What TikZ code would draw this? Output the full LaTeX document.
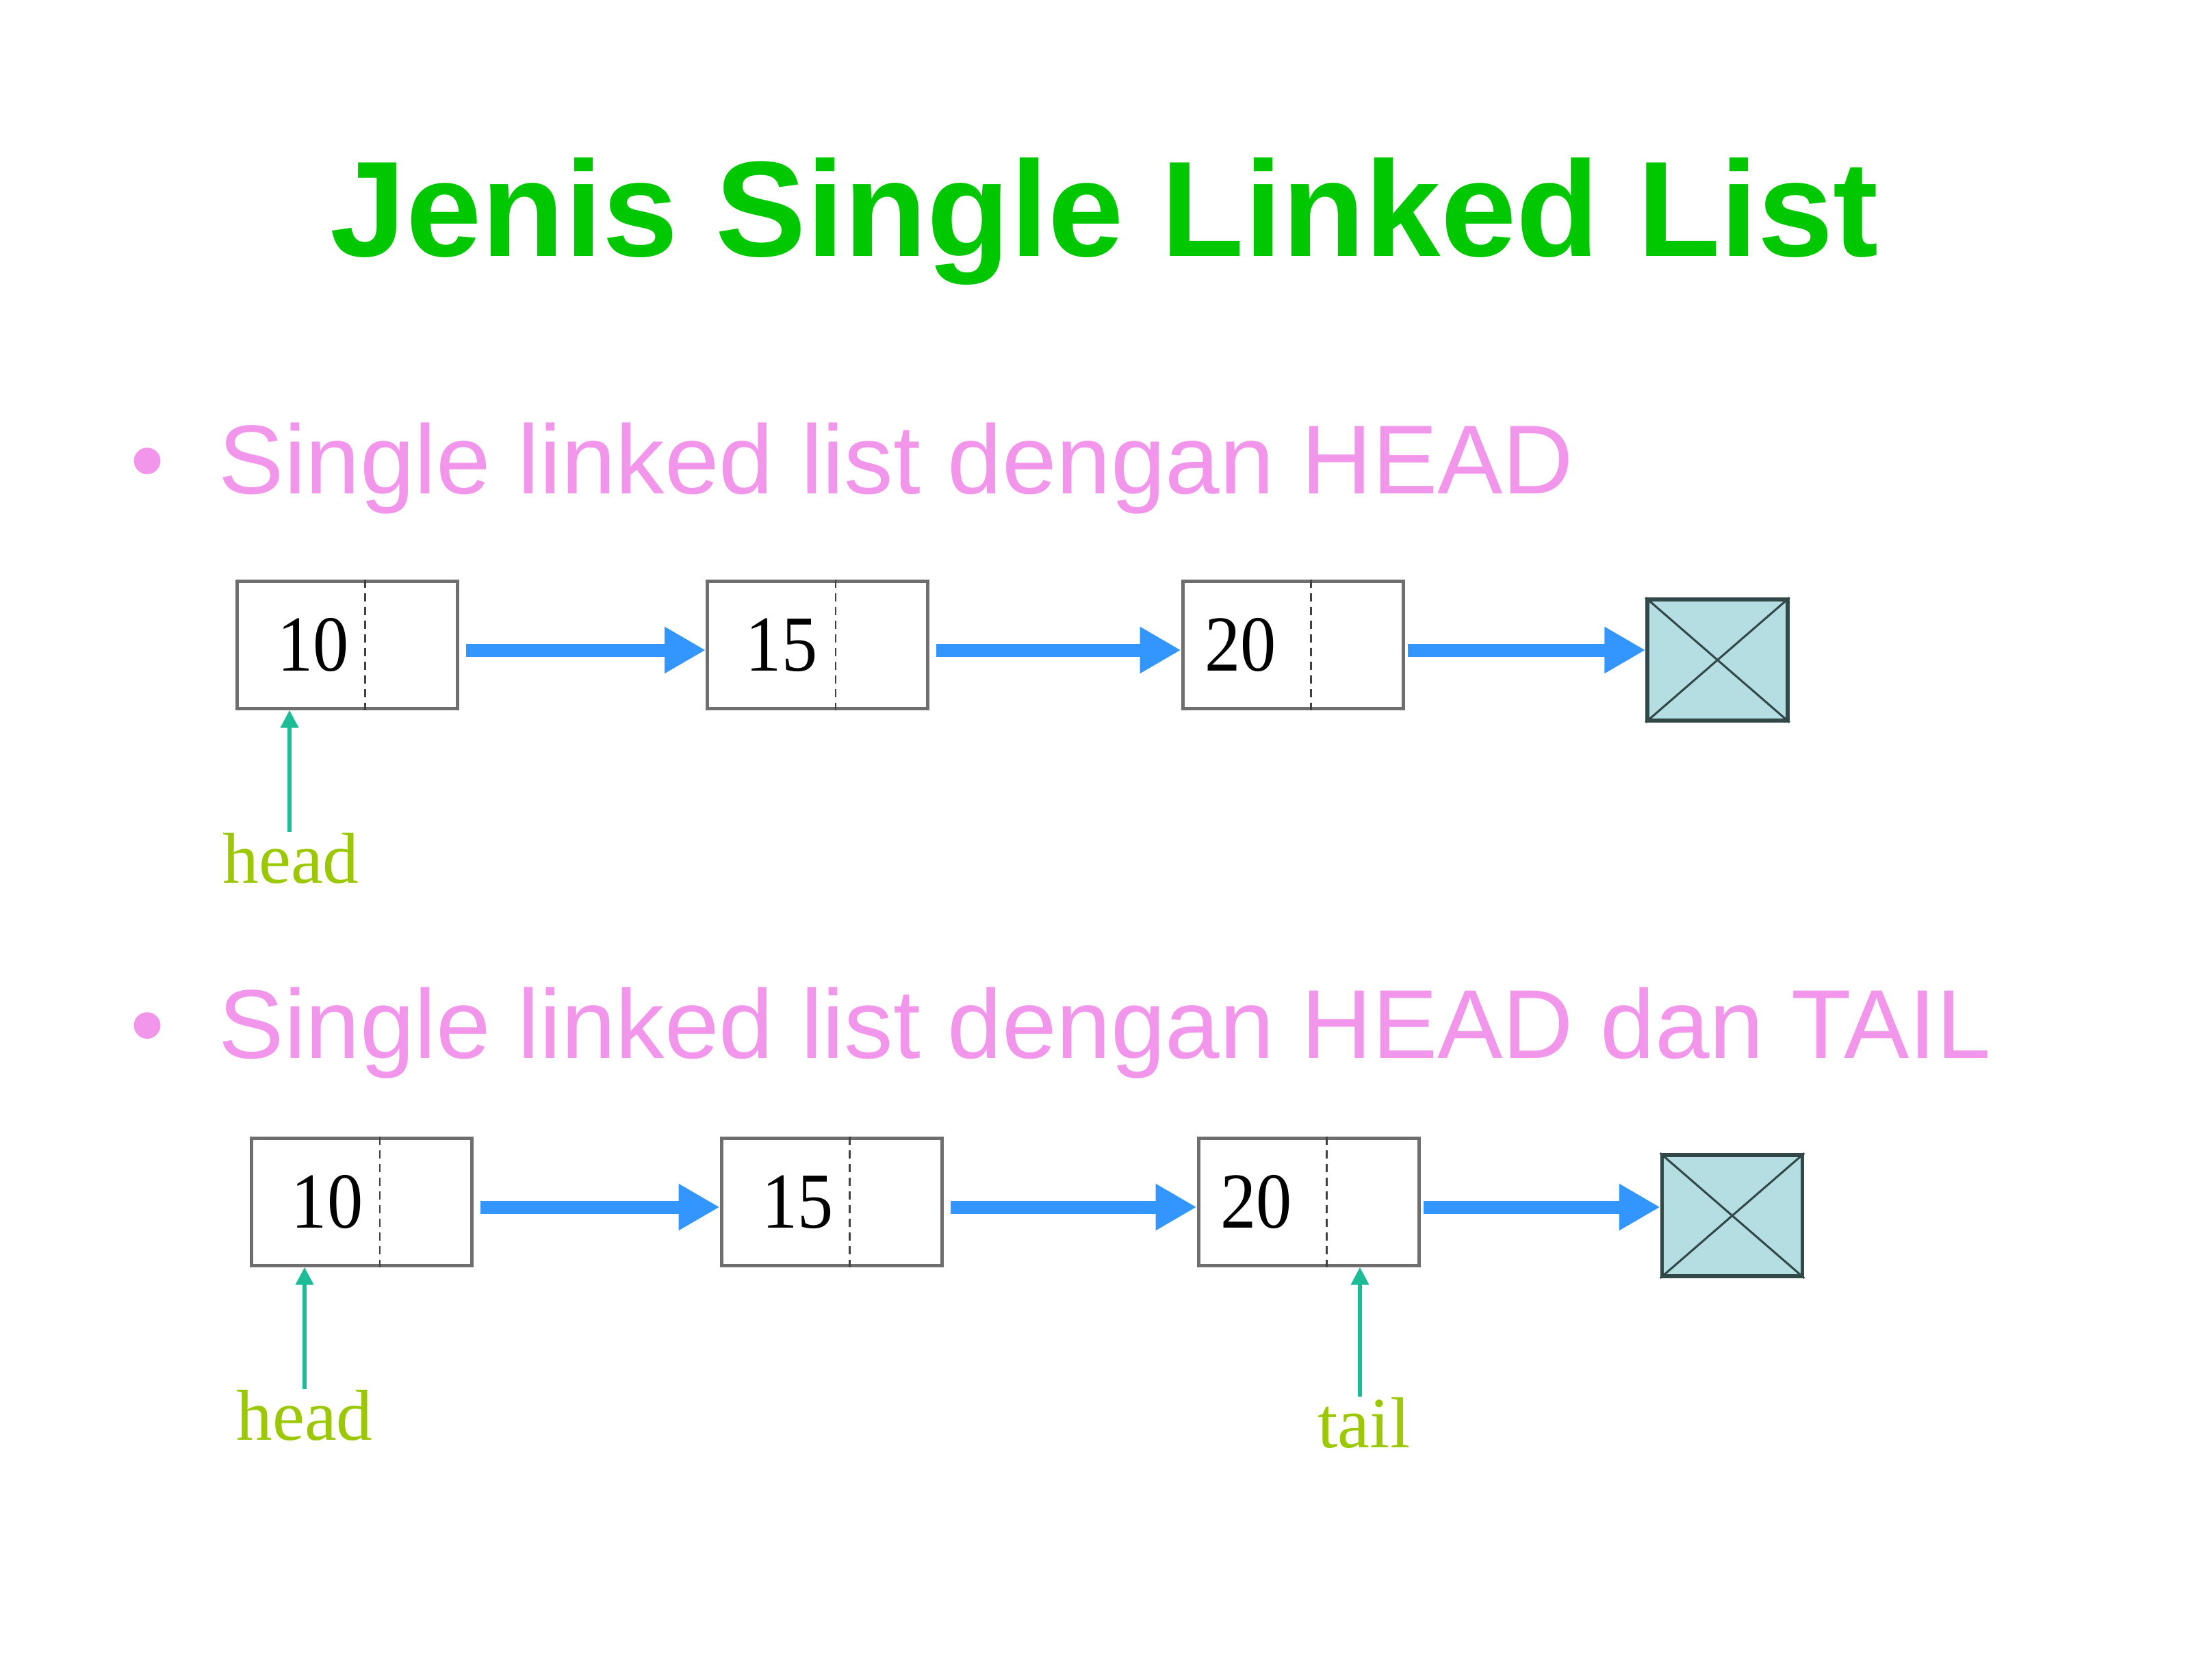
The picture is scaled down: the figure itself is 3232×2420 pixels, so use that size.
\documentclass[tikz,border=0pt]{standalone}
\usepackage{fontspec}
\setmainfont{Liberation Serif}
\newfontfamily\arialf{Liberation Sans}
\newfontfamily\numfont[FakeStretch=0.9]{Liberation Serif}
\usetikzlibrary{arrows.meta}
\definecolor{titlegreen}{RGB}{0,200,0}
\definecolor{bulpink}{RGB}{242,150,236}
\definecolor{arrowblue}{RGB}{51,150,255}
\definecolor{ptrteal}{RGB}{28,188,150}
\definecolor{lblgreen}{RGB}{155,200,0}
\definecolor{boxgrey}{RGB}{110,110,110}
\definecolor{nullfill}{RGB}{180,222,225}
\definecolor{nullborder}{RGB}{50,72,72}
\tikzset{
  titlestyle/.style={font=\arialf\bfseries\fontsize{56.5}{60}\selectfont, text=titlegreen, inner sep=0},
  bulstyle/.style={font=\arialf\fontsize{40.7}{44}\selectfont, text=bulpink, inner sep=0},
  cell/.style={draw=boxgrey, line width=0.5mm, fill=white, minimum width=32.2mm, minimum height=18.6mm, inner sep=0},
  numstyle/.style={font=\numfont\fontsize{33}{35}\selectfont, inner sep=0, anchor=base},
  divider/.style={draw=black!75, line width=0.25mm, dash pattern=on 1.2mm off 0.8mm},
  nullbox/.style={draw=nullborder, line width=0.55mm, fill=nullfill, minimum width=20.5mm, minimum height=17.7mm, inner sep=0},
  cross/.style={draw=nullborder, line width=0.3mm},
  link/.style={draw=arrowblue, line width=1.9mm, -{Triangle[length=6mm,width=6.4mm]}},
  ptr/.style={draw=ptrteal, line width=0.65mm, -{Triangle[length=2.6mm,width=2.5mm]}},
  lbl/.style={font=\fontsize{30}{32}\selectfont, text=lblgreen, inner sep=0, anchor=base}
}
\begin{document}
\begin{tikzpicture}[x=0.1mm,y=-0.1mm]
\useasboundingbox[fill=white] (0,0) rectangle (3232,2420);

\node[titlestyle, anchor=base] (title) at (1614,375) {Jenis Single Linked List};

\node[bulstyle, anchor=base] (dot1) at (216,721) {•};
\node[bulstyle, anchor=base west] (b1) at (319,721) {Single linked list dengan HEAD};
\node[bulstyle, anchor=base] (dot2) at (216,1546) {•};
\node[bulstyle, anchor=base west] (b2) at (319,1546) {Single linked list dengan HEAD dan TAIL};

% Row 1
\node[cell] (a1) at (507,942) {};
\node[cell] (a2) at (1194.5,942) {};
\node[cell] (a3) at (1889,942) {};
\node[nullbox] (an) at (2509.5,964.5) {};
\foreach \n in {a1,a2,a3}{
  \draw[divider] ([xshift=19mm]\n.north west) -- ([xshift=19mm]\n.south west);
}
\draw[cross] (an.north west) -- (an.south east);
\draw[cross] (an.north east) -- (an.south west);
\node[numstyle] (v11) at ([shift={(11.4mm,-13.4mm)}]a1.north west) {10};
\node[numstyle] (v12) at ([shift={(11.1mm,-13.4mm)}]a2.north west) {15};
\node[numstyle] (v13) at ([shift={(8.7mm,-13.4mm)}]a3.north west) {20};
\draw[link] ([shift={(1mm,-0.8mm)}]a1.east) -- ([yshift=-0.8mm]a2.west);
\draw[link] ([shift={(1mm,-0.8mm)}]a2.east) -- ([yshift=-0.8mm]a3.west);
\coordinate (s13) at ([shift={(0.4mm,-0.8mm)}]a3.east);
\draw[link] (s13) -- (s13 -| an.west);
\node[lbl] (h1) at (425,1290) {head};
\draw[ptr] ([xshift=-0.2mm]h1.north) -- ([xshift=-0.2mm]h1.north |- a1.south);

% Row 2
\node[cell] (c1) at (528.5,1756) {};
\node[cell] (c2) at (1215,1756) {};
\node[cell] (c3) at (1912,1756) {};
\node[nullbox] (cn) at (2531,1776.5) {};
\foreach \n in {c1,c2,c3}{
  \draw[divider] ([xshift=19mm]\n.north west) -- ([xshift=19mm]\n.south west);
}
\draw[cross] (cn.north west) -- (cn.south east);
\draw[cross] (cn.north east) -- (cn.south west);
\node[numstyle] (v21) at ([shift={(11.3mm,-13.4mm)}]c1.north west) {10};
\node[numstyle] (v22) at ([shift={(11.4mm,-13.4mm)}]c2.north west) {15};
\node[numstyle] (v23) at ([shift={(8.7mm,-13.4mm)}]c3.north west) {20};
\draw[link] ([shift={(1mm,-0.8mm)}]c1.east) -- ([yshift=-0.8mm]c2.west);
\draw[link] ([shift={(1mm,-0.8mm)}]c2.east) -- ([yshift=-0.8mm]c3.west);
\coordinate (s23) at ([shift={(0.4mm,-0.8mm)}]c3.east);
\draw[link] (s23) -- (s23 -| cn.west);
\node[lbl] (h2) at (445,2104) {head};
\draw[ptr] (h2.north) -- (h2.north |- c1.south);
\node[lbl] (t2) at (1993,2115) {tail};
\draw[ptr] ([xshift=-0.6mm]t2.north) -- ([xshift=-0.6mm]t2.north |- c3.south);
\end{tikzpicture}
\end{document}
